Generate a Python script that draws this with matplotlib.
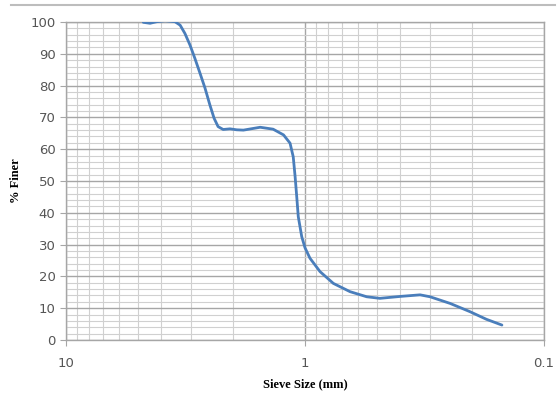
import matplotlib
matplotlib.use("Agg")
import matplotlib.pyplot as plt
from matplotlib.lines import Line2D
from matplotlib.ticker import FixedLocator, LogLocator, NullFormatter, MultipleLocator

# Data (sieve size in mm, percent finer)
sieve_size = [4.75, 4.45, 4.17, 3.85, 3.50, 3.33, 3.18, 3.03, 2.89, 2.75, 2.62,
              2.50, 2.40, 2.31, 2.20, 2.06, 1.93, 1.81, 1.54, 1.36, 1.23, 1.155,
              1.12, 1.10, 1.083, 1.067, 1.032, 1.00, 0.953, 0.865, 0.761, 0.648,
              0.552, 0.486, 0.400, 0.330, 0.300, 0.247, 0.204, 0.174, 0.150]
percent_finer = [99.9, 99.6, 100.1, 100.4, 100.1, 99.0, 96.4, 92.8, 88.6, 83.9, 79.2,
                 73.9, 69.7, 67.1, 66.2, 66.4, 66.1, 66.0, 66.9, 66.3, 64.5, 61.9,
                 57.6, 51.4, 45.1, 38.8, 32.5, 29.0, 25.7, 21.5, 17.8, 15.2,
                 13.6, 13.1, 13.7, 14.2, 13.6, 11.5, 8.9, 6.5, 4.7]
x_ticks = [10, 1, 0.1]
x_tick_labels = ["10", "1", "0.1"]
y_ticks = [0, 10, 20, 30, 40, 50, 60, 70, 80, 90, 100]

fig = plt.figure(figsize=(5.58, 4.00), dpi=100)
ax = fig.add_axes([66/558, 1-340/400, (544-66)/558, (340-22)/400])

ax.set_xscale("log")
ax.set_xlim(10, 0.1)
ax.set_ylim(0, 100)

ax.plot(sieve_size, percent_finer, color="#4a7ebb", lw=2.0, solid_capstyle="round",
        solid_joinstyle="round", zorder=3, clip_on=True)

ax.xaxis.set_major_locator(FixedLocator(x_ticks))
ax.set_xticklabels(x_tick_labels)
ax.xaxis.set_minor_locator(LogLocator(base=10, subs=range(2, 10)))
ax.xaxis.set_minor_formatter(NullFormatter())
ax.set_yticks(y_ticks)
ax.yaxis.set_minor_locator(MultipleLocator(2))

ax.grid(which="major", color="#a6a6a6", lw=1.0)
ax.grid(which="minor", color="#d0d0d0", lw=0.8)
ax.set_axisbelow(True)

for s in ax.spines.values():
    s.set_color("#a6a6a6")
    s.set_linewidth(1.0)

ax.tick_params(which="major", length=4, color="#a6a6a6", labelcolor="#555555",
               labelsize=9.5)
ax.tick_params(axis="x", which="major", pad=8)
ax.tick_params(which="minor", length=0)

ax.set_xlabel("Sieve Size (mm)", family="Liberation Serif", fontweight="bold",
              fontsize=9, labelpad=6)
ax.set_ylabel("% Finer", family="Liberation Serif", fontweight="bold",
              fontsize=9, labelpad=6)

fig.add_artist(Line2D([0.02, 0.995], [1-5/400, 1-5/400], color="#bdbdbd", lw=1.5,
                      transform=fig.transFigure))

fig.savefig("out.png", dpi=100)
